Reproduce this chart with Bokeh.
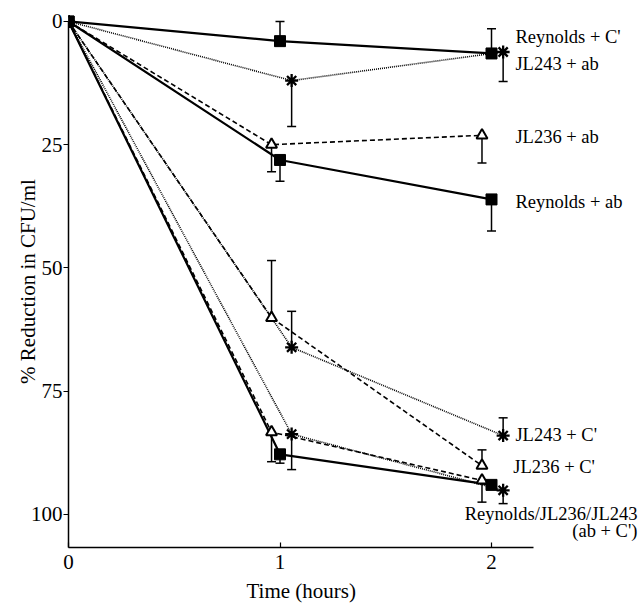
from bokeh.plotting import figure
from bokeh.models import Range1d, FixedTicker, Label, Title
from bokeh.embed import file_html
from bokeh.resources import INLINE

# ---- data ----
# plotted time positions (hours), staggered slightly per strain as in the original
time_reynolds = [0.0, 1.0, 2.0]
time_jl236 = [0.0, 0.96, 1.955]
time_jl243 = [0.0, 1.055, 2.055]

# % reduction in CFU/ml ; errors are signed (+ = bar drawn toward larger %)
reynolds_c = [0.0, 4.0, 6.5]
reynolds_c_err = [0.0, -4.0, -5.0]
jl243_ab = [0.0, 12.0, 6.2]
jl243_ab_err = [0.0, 9.3, 6.0]
jl236_ab = [0.0, 25.0, 23.1]
jl236_ab_err = [0.0, 5.5, 5.6]
reynolds_ab = [0.0, 28.1, 36.1]
reynolds_ab_err = [0.0, 4.3, 6.4]
jl236_c = [0.0, 60.1, 90.1]
jl236_c_err = [0.0, -11.6, -3.2]
jl243_c = [0.0, 66.1, 84.0]
jl243_c_err = [0.0, -7.3, -3.6]
reynolds_abc = [0.0, 87.8, 94.0]
reynolds_abc_err = [0.0, 1.8, 0.0]
jl236_abc = [0.0, 83.3, 93.1]
jl236_abc_err = [0.0, 6.0, 4.4]
jl243_abc = [0.0, 83.7, 95.1]
jl243_abc_err = [0.0, 7.2, 2.7]

x_ticks = [0, 1, 2]
y_ticks = [0, 25, 50, 75, 100]
x_axis_bounds = (0, 2.2)
y_axis_bounds = (0, 106.7)

labels = ["Reynolds + C'", "JL243 + ab", "JL236 + ab", "Reynolds + ab",
          "JL243 + C'", "JL236 + C'", "Reynolds/JL236/JL243", "(ab + C')"]

FONT = "Liberation Serif"

p = figure(width=638, height=609, output_backend="svg", toolbar_location=None,
           x_range=Range1d(0, 2.695), y_range=Range1d(106.7, -1.2),
           min_border_left=68, min_border_right=0, min_border_top=15,
           min_border_bottom=62)
p.outline_line_color = None
p.grid.visible = False
p.background_fill_color = "white"

# axes
p.xaxis.ticker = FixedTicker(ticks=x_ticks)
p.yaxis.ticker = FixedTicker(ticks=y_ticks)
p.xaxis.bounds = x_axis_bounds
p.yaxis.bounds = y_axis_bounds
for ax in (p.xaxis, p.yaxis):
    ax.axis_line_color = "black"
    ax.axis_line_width = 1.5
    ax.major_tick_line_color = "black"
    ax.major_tick_line_width = 1.2
    ax.minor_tick_line_color = None
    ax.major_label_text_font = FONT
    ax.major_label_text_font_size = "21px"
    ax.major_label_text_color = "black"
    ax.axis_label_text_font = FONT
    ax.axis_label_text_font_size = "21px"
    ax.axis_label_text_font_style = "normal"
    ax.axis_label_text_color = "black"
p.xaxis.major_tick_in = 5
p.xaxis.major_tick_out = 0
p.xaxis.major_label_standoff = 7
p.yaxis.major_tick_in = 0
p.yaxis.major_tick_out = 5
p.yaxis.major_label_standoff = 1
p.yaxis.axis_label = "% Reduction in CFU/ml"
p.yaxis.axis_label_standoff = -12

# x-axis title, centred under the drawn axis (0 .. 2.2 h)
p.add_layout(Title(text="Time (hours)", align="left", offset=178,
                   text_font=FONT, text_font_size="21px",
                   text_font_style="normal", text_color="black"), "below")

STYLE = {
    "reynolds": dict(dash="solid", lw=2.2),
    "jl236": dict(dash="5 3", lw=1.6),
    "jl243": dict(dash="1 1", lw=1.6),
}

series = [
    ("reynolds", time_reynolds, reynolds_c, reynolds_c_err),
    ("jl243", time_jl243, jl243_ab, jl243_ab_err),
    ("jl236", time_jl236, jl236_ab, jl236_ab_err),
    ("reynolds", time_reynolds, reynolds_ab, reynolds_ab_err),
    ("jl236", time_jl236, jl236_c, jl236_c_err),
    ("jl243", time_jl243, jl243_c, jl243_c_err),
    ("reynolds", time_reynolds, reynolds_abc, reynolds_abc_err),
    ("jl236", time_jl236, jl236_abc, jl236_abc_err),
    ("jl243", time_jl243, jl243_abc, jl243_abc_err),
]

# lines
for strain, xs, ys, errs in series:
    st = STYLE[strain]
    p.line(xs, ys, line_color="black", line_width=st["lw"], line_dash=st["dash"])

# error bars
for strain, xs, ys, errs in series:
    ex = [x for x, e in zip(xs, errs) if e != 0]
    ey0 = [y for y, e in zip(ys, errs) if e != 0]
    ey1 = [y + e for y, e in zip(ys, errs) if e != 0]
    if not ex:
        continue
    p.segment(x0=ex, y0=ey0, x1=ex, y1=ey1, line_color="black", line_width=1.5)
    p.scatter(ex, ey1, marker="dash", size=9, line_color="black", line_width=1.5)

# markers (stars, then triangles, then squares on top)
for want in ("jl243", "jl236", "reynolds"):
    for strain, xs, ys, errs in series:
        if strain != want:
            continue
        if strain == "reynolds":
            p.scatter(xs, ys, marker="square", size=11, fill_color="black",
                      line_color="black", line_width=1)
        elif strain == "jl236":
            p.scatter(xs, ys, marker="triangle", size=11, fill_color="white",
                      line_color="black", line_width=2)
        else:
            p.scatter(xs, ys, marker="asterisk", size=13, line_color="black",
                      line_width=2.3)

# series labels
label_pos = [
    (2.113, 3.2, "left"), (2.113, 8.7, "left"), (2.113, 23.5, "left"),
    (2.113, 36.6, "left"), (2.113, 83.9, "left"), (2.103, 90.4, "left"),
    (2.69, 100.0, "right"), (2.69, 103.4, "right"),
]
for txt, (lx, ly, al) in zip(labels, label_pos):
    p.add_layout(Label(x=lx, y=ly, text=txt, text_font=FONT, text_font_size="18.5px",
                       text_align=al, text_baseline="middle", text_color="black"))

open("out.html", "w").write(file_html(p, INLINE))
